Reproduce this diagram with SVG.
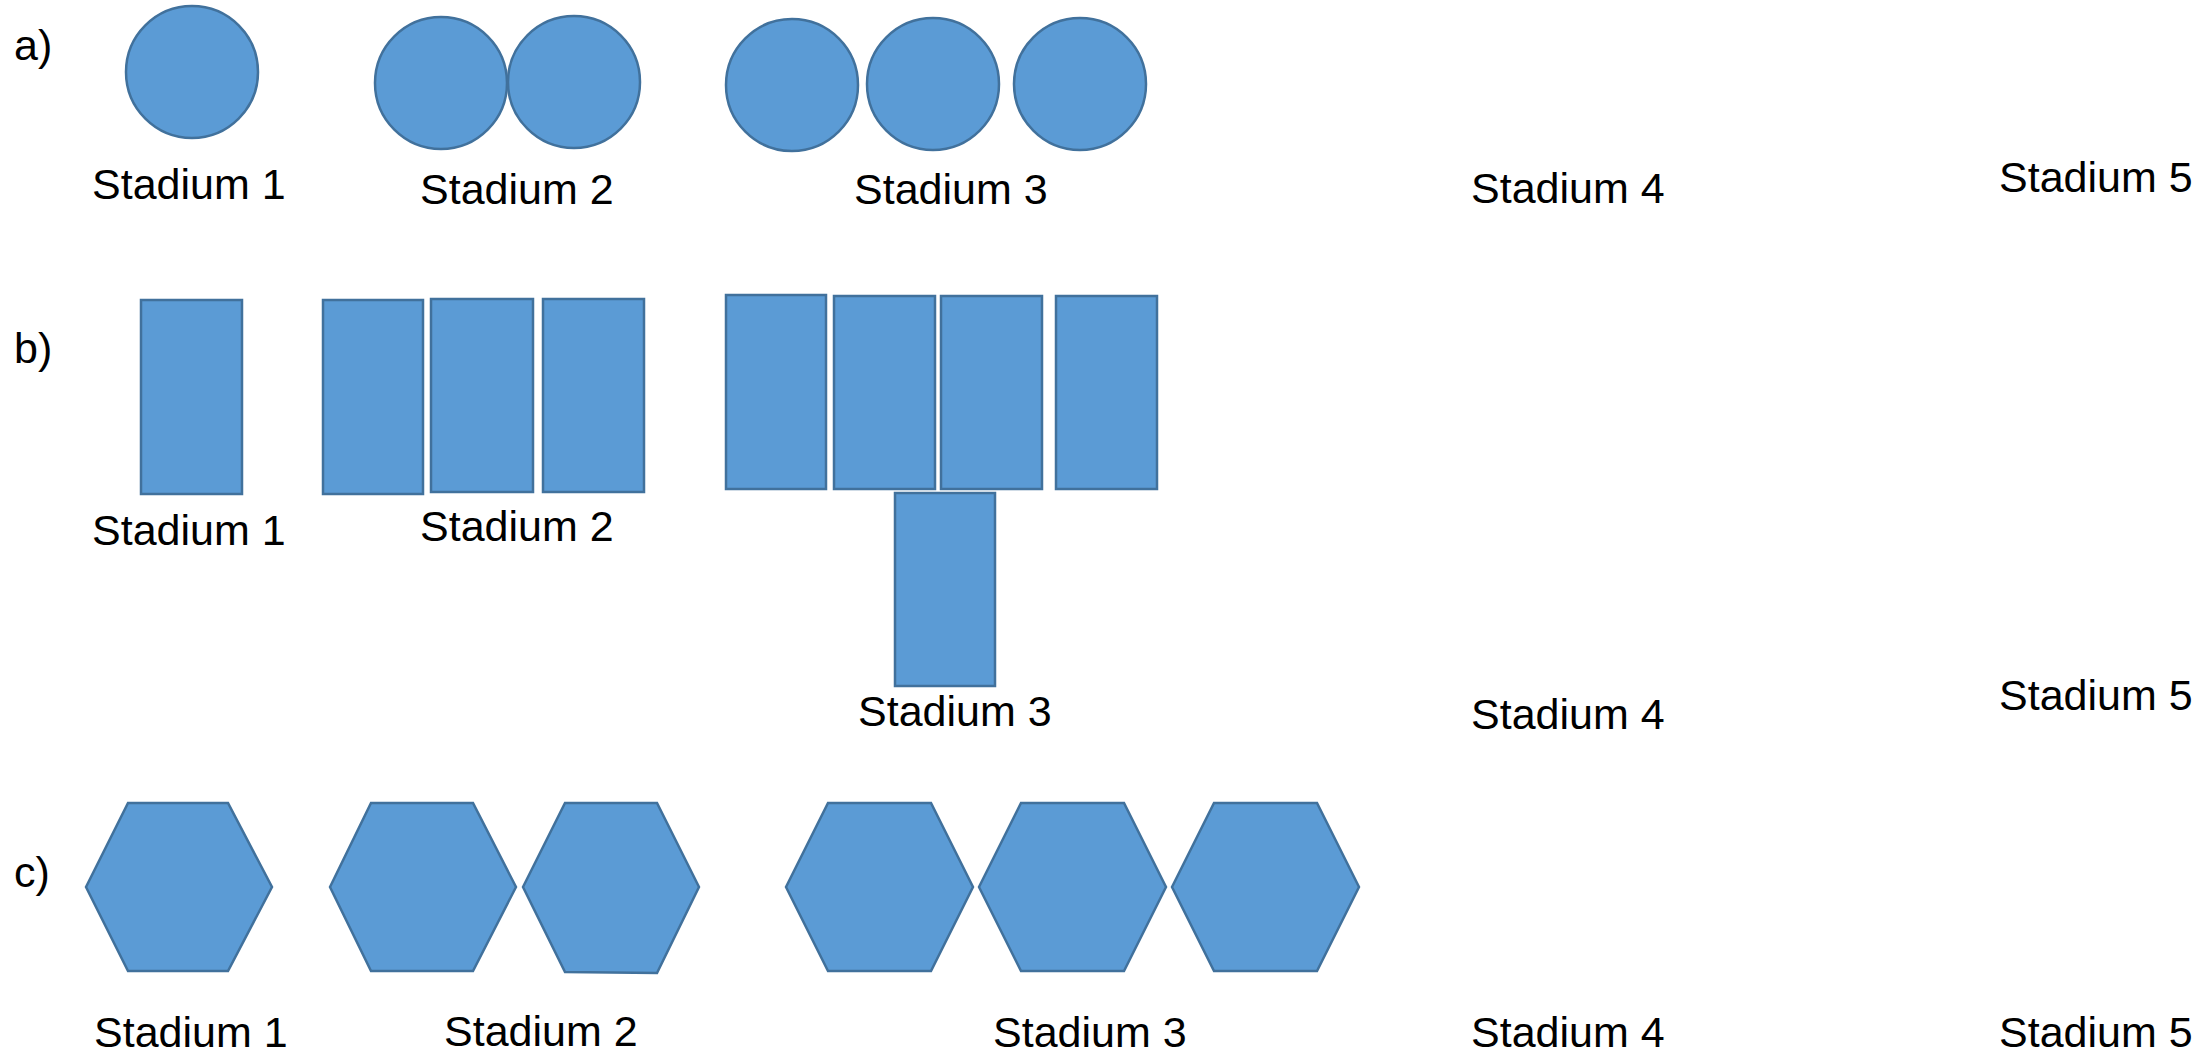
<svg xmlns="http://www.w3.org/2000/svg" width="2210" height="1057" viewBox="0 0 2210 1057">
<style>
.s{fill:#5B9BD5;stroke:#41719C;stroke-width:2.5}
text{font-family:"Liberation Sans",Arial,sans-serif;font-size:43px;fill:#000}
</style>
<rect width="2210" height="1057" fill="#fff"/>
<g id="labels">
<text x="14" y="60">a)</text>
<text x="14" y="363">b)</text>
<text x="14" y="887">c)</text>
</g>
<g id="row-a">
<g id="a-s1"><circle class="s" cx="192" cy="72" r="66"/><text x="92" y="199">Stadium 1</text></g>
<g id="a-s2"><circle class="s" cx="441" cy="83" r="66"/><circle class="s" cx="574" cy="82" r="66"/><text x="420" y="204">Stadium 2</text></g>
<g id="a-s3"><circle class="s" cx="792" cy="85" r="66"/><circle class="s" cx="933" cy="84" r="66"/><circle class="s" cx="1080" cy="84" r="66"/><text x="854" y="204">Stadium 3</text></g>
<g id="a-s4"><text x="1471" y="203">Stadium 4</text></g>
<g id="a-s5"><text x="1999" y="192">Stadium 5</text></g>
</g>
<g id="row-b">
<g id="b-s1"><rect class="s" x="141" y="300" width="101" height="194"/><text x="92" y="545">Stadium 1</text></g>
<g id="b-s2"><rect class="s" x="323" y="300" width="100" height="194"/><rect class="s" x="431" y="299" width="102" height="193"/><rect class="s" x="543" y="299" width="101" height="193"/><text x="420" y="541">Stadium 2</text></g>
<g id="b-s3"><rect class="s" x="726" y="295" width="100" height="194"/><rect class="s" x="834" y="296" width="101" height="193"/><rect class="s" x="941" y="296" width="101" height="193"/><rect class="s" x="1056" y="296" width="101" height="193"/><rect class="s" x="895" y="493" width="100" height="193"/><text x="858" y="726">Stadium 3</text></g>
<g id="b-s4"><text x="1471" y="729">Stadium 4</text></g>
<g id="b-s5"><text x="1999" y="710">Stadium 5</text></g>
</g>
<g id="row-c">
<g id="c-s1"><polygon class="s" points="86,887 128,803 228,803 272,887 228,971 128,971"/><text x="94" y="1047">Stadium 1</text></g>
<g id="c-s2"><polygon class="s" points="330,887 371,803 473,803 516,887 473,971 371,971"/><polygon class="s" points="523,887 565,803 657,803 699,887 657,973 565,972"/><text x="444" y="1046">Stadium 2</text></g>
<g id="c-s3"><polygon class="s" points="786,887 828,803 931,803 973,887 931,971 828,971"/><polygon class="s" points="979,887 1021,803 1124,803 1166,887 1124,971 1021,971"/><polygon class="s" points="1172,887 1214,803 1317,803 1359,887 1317,971 1214,971"/><text x="993" y="1047">Stadium 3</text></g>
<g id="c-s4"><text x="1471" y="1047">Stadium 4</text></g>
<g id="c-s5"><text x="1999" y="1047">Stadium 5</text></g>
</g>
<g id="connectors"/>
</svg>
